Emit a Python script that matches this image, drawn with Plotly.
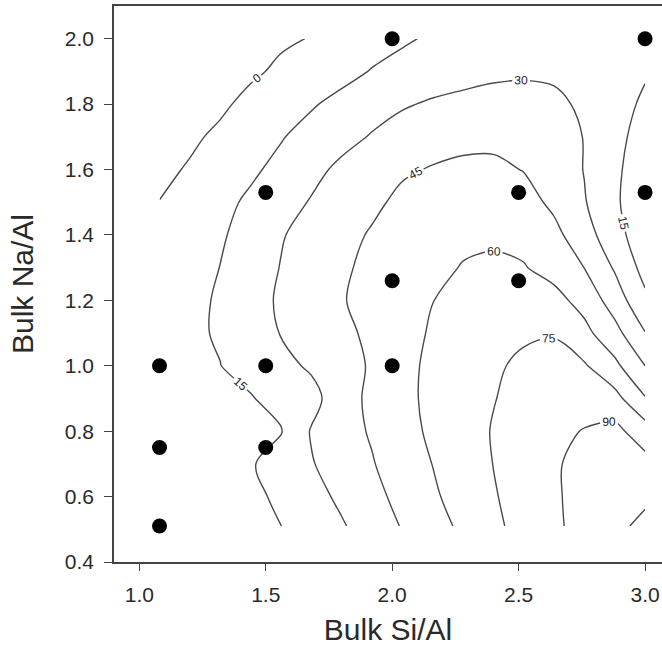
import plotly.graph_objects as go

# Grid of the response surface
si_al = [1.08, 1.20, 1.32, 1.44, 1.56, 1.68, 1.80, 1.92, 2.04, 2.16, 2.28, 2.40, 2.52, 2.64, 2.76, 2.88, 3.00]
na_al = [0.51, 0.6, 0.7, 0.8, 0.9, 1.0, 1.1, 1.2, 1.3, 1.4, 1.5, 1.6, 1.7, 1.8, 1.9, 2.0]

z_051 = [8, 9, 10, 12, 14.9, 21, 28.5, 37.5, 45.8, 54, 63, 72, 80, 88.5, 93, 92, 88]
z_060 = [8.5, 9.5, 10.5, 12.5, 17, 24.5, 33, 40.5, 49.5, 58, 65.5, 73.8, 81, 88.5, 94, 95, 91.5]
z_070 = [9, 10, 11, 13.5, 22, 29, 37, 44, 53, 60.2, 67.5, 75.2, 82.5, 88.5, 94, 96.5, 95]
z_080 = [9, 10.5, 11.5, 12.5, 14, 31, 39, 46.5, 55, 62.5, 69, 75.8, 82, 87.5, 90.5, 94, 82]
z_090 = [9, 11, 12.5, 14, 20.5, 25, 39, 48, 55.5, 64, 70.5, 74.5, 79, 84, 85.5, 80, 61]
z_100 = [8, 12, 14.8, 20, 26, 32, 39.5, 46.5, 56, 63, 70, 73.5, 77, 79, 76.5, 63.5, 45]
z_110 = [7, 12.8, 16.2, 24, 30.5, 36.5, 41, 48.5, 55, 61.5, 67.5, 71, 73.5, 74.2, 64, 50, 30.5]
z_120 = [6, 10.5, 17, 24, 32, 37.5, 44, 50, 54.5, 59.8, 64, 66, 66, 64.5, 55, 38, 18]
z_130 = [4, 9, 15.2, 22.5, 30.5, 37, 42.5, 49, 53.5, 57.5, 60.5, 61.5, 60.8, 55, 44.8, 28.5, 10]
z_140 = [2, 7, 13.5, 20, 29, 35, 40, 46.5, 52.5, 56, 58, 58.5, 56, 49, 36, 21, 5]
z_150 = [0.2, 5, 11, 17.5, 24, 31, 36.5, 41.8, 48.5, 52, 54, 54, 50.5, 42, 31, 17.5, 4]
z_160 = [-2.5, 1, 6.5, 12.5, 19, 26, 33, 39, 43, 46, 48, 48, 44.5, 39, 29.5, 18, 6]
z_170 = [-4.5, -1.8, 2, 6.5, 14, 20.5, 25.5, 31, 35.5, 39, 41, 41.5, 40.5, 37, 29.5, 20, 8]
z_180 = [-8, -5, -1.8, 2.8, 7.5, 13.5, 19.5, 24.5, 28.7, 31.5, 33, 34, 34, 32.5, 28, 21, 12.5]
z_190 = [-10, -7, -4.5, -1.7, 1.8, 5.5, 10, 15.8, 20, 23.5, 26, 27.8, 28.5, 28, 25.5, 21, 16.5]
z_200 = [-12, -9, -6, -3.5, -1.5, 0.4, 4.5, 8.8, 13, 17, 20.5, 23, 24.5, 25, 24, 22, 19]

z_grid = [z_051, z_060, z_070, z_080, z_090, z_100, z_110, z_120,
          z_130, z_140, z_150, z_160, z_170, z_180, z_190, z_200]

# Experimental points
pts_si = [1.08, 1.08, 1.08, 1.5, 1.5, 1.5, 2.0, 2.0, 2.0, 2.5, 2.5, 3.0, 3.0]
pts_na = [1.0, 0.75, 0.51, 1.53, 1.0, 0.75, 2.0, 1.26, 1.0, 1.53, 1.26, 2.0, 1.53]

x_ticks = [1.0, 1.5, 2.0, 2.5, 3.0]
y_ticks = [0.4, 0.6, 0.8, 1.0, 1.2, 1.4, 1.6, 1.8, 2.0]

FONT = "Arial, Liberation Sans, sans-serif"
AX = "#444444"
TXT = "#2a2a2a"

fig = go.Figure()
fig.add_trace(go.Contour(
    x=si_al, y=na_al, z=z_grid,
    contours=dict(start=0, end=90, size=15, coloring="lines",
                  showlabels=True,
                  labelfont=dict(size=12, color="#222222", family=FONT)),
    colorscale=[[0, "#4a4a4a"], [1, "#4a4a4a"]],
    line=dict(width=1.4, smoothing=1.0),
    showscale=False, hoverinfo="skip",
))
fig.add_trace(go.Scatter(
    x=pts_si, y=pts_na, mode="markers",
    marker=dict(color="black", size=15),
    showlegend=False, hoverinfo="skip",
))

fig.update_layout(
    width=662, height=650,
    margin=dict(l=114, r=0, t=6, b=88),
    paper_bgcolor="white", plot_bgcolor="white",
    showlegend=False,
    font=dict(family=FONT, color=TXT),
)
fig.update_xaxes(
    range=[0.9, 3.067], tickvals=x_ticks, ticktext=[f"{v:.1f}" for v in x_ticks],
    showgrid=False, zeroline=False,
    showline=True, mirror=True, linecolor=AX, linewidth=1.5,
    ticks="outside", ticklen=7, tickcolor=AX, tickwidth=1.2,
    ticklabelstandoff=6,
    tickfont=dict(size=21, family=FONT, color=TXT),
    title=dict(text="Bulk Si/Al", font=dict(size=30, family=FONT, color=TXT), standoff=14),
)
fig.update_yaxes(
    range=[0.4, 2.1], tickvals=y_ticks, ticktext=[f"{v:.1f}" for v in y_ticks],
    showgrid=False, zeroline=False,
    showline=True, mirror=False, linecolor=AX, linewidth=1.5,
    ticks="outside", ticklen=8, tickcolor=AX, tickwidth=1.2,
    ticklabelstandoff=6,
    tickfont=dict(size=21, family=FONT, color=TXT),
    title=dict(text="Bulk Na/Al", font=dict(size=30, family=FONT, color=TXT), standoff=22),
)

fig.write_html("out.html")
